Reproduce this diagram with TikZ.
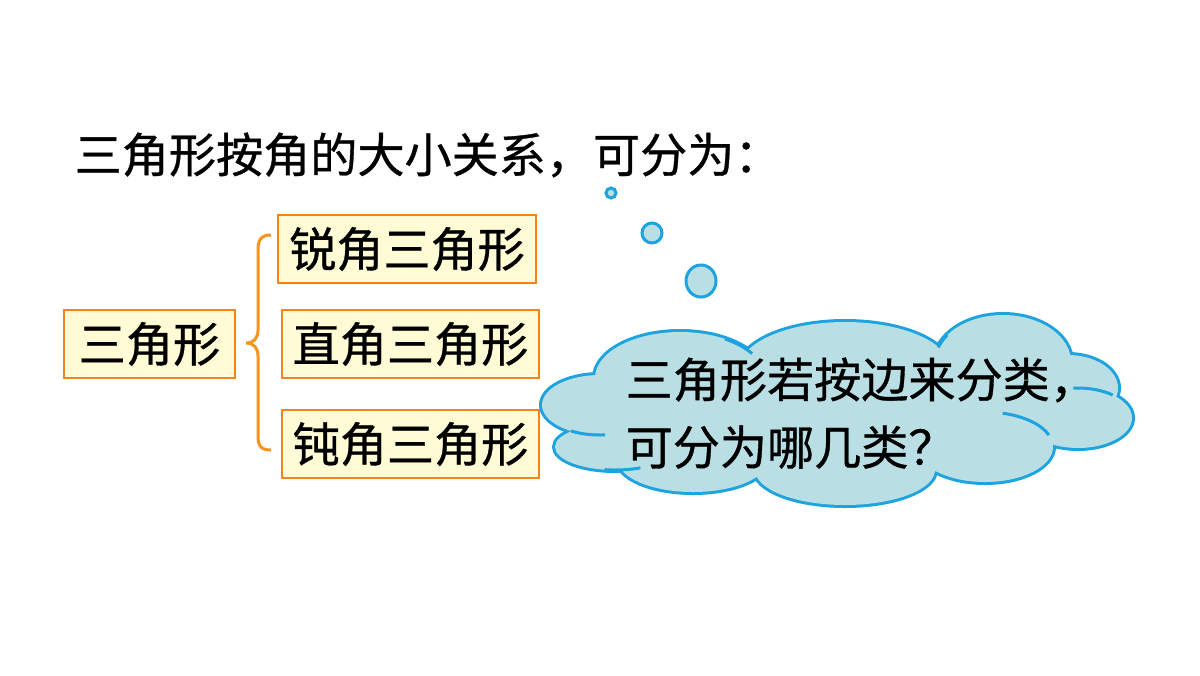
\documentclass[tikz,border=0pt]{standalone}
\usepackage{fontspec}
\setmainfont{Noto Sans CJK SC}[FakeBold=0.7]
\usepackage{tikz}
\definecolor{boxorange}{RGB}{245,130,32}
\definecolor{boxyellow}{RGB}{255,251,212}
\definecolor{braceorange}{RGB}{247,148,30}
\definecolor{cloudblue}{RGB}{28,163,224}
\definecolor{cloudfill}{RGB}{185,223,228}
\tikzset{
    catbox/.style={draw=boxorange, fill=boxyellow, line width=.6pt, minimum height=.68cm,
        inner sep=0mm, font=\fontsize{13.4pt}{15pt}\selectfont},
    plaintext/.style={anchor=west, inner sep=0mm, font=\fontsize{13.4pt}{15pt}\selectfont},
    bubble/.style={draw=cloudblue, fill=cloudfill, line width=.03cm},
    puffline/.style={draw=cloudblue, line width=.06cm},
    innerline/.style={draw=cloudblue, line width=.03cm},
    bracestyle/.style={draw=braceorange, line width=.03cm}
}

\begin{document}
\begin{tikzpicture}[x=0.01cm, y=-0.01cm]
    \useasboundingbox (0,0) rectangle (1200,675);

    \node (title) [plaintext] at (74,155) {三角形按角的大小关系，可分为：};

    \node (tri) [catbox, minimum width=1.71cm] at (149.5,344) {三角形};
    \node (acute) [catbox, minimum width=2.58cm] at (407,249) {锐角三角形};
    \node (right) [catbox, minimum width=2.57cm] at (410.5,344) {直角三角形};
    \node (obtuse) [catbox, minimum width=2.57cm] at (410.5,444) {钝角三角形};

    % brace
    \coordinate (btop) at (271,235);
    \coordinate (btip) at (246,343);
    \coordinate (bbot) at (271,450);
    \draw [bracestyle] (btop) .. controls (261,235) and (258,240) .. (258,250) -- (258,330)
        .. controls (258,338) and (254,343) .. (btip)
        .. controls (254,343) and (258,348) .. (258,356) -- (258,436)
        .. controls (258,446) and (261,450) .. (bbot);

    % thought bubbles
    \draw [bubble] (611,193) circle [radius=5];
    \draw [bubble] (652,233) circle [radius=10];
    \draw [bubble] (701,281) ellipse [x radius=15, y radius=16];

    % cloud: outlines first, then fill over the inside
    \foreach \cx/\cy/\rx/\ry in {600/405/58/30, 615/447/60/23, 680/378/85/46,
        845/368/105/46, 1003/362/68/47, 1068/388/50/33, 1078/418/54/30,
        985/447/68/35, 845/470/90/35, 693/460/75/32}
        \draw [puffline] (\cx,\cy) ellipse [x radius=\rx, y radius=\ry];
    \foreach \cx/\cy/\rx/\ry in {600/405/58/30, 615/447/60/23, 680/378/85/46,
        845/368/105/46, 1003/362/68/47, 1068/388/50/33, 1078/418/54/30,
        985/447/68/35, 845/470/90/35, 693/460/75/32, 835/415/240/62}
        \fill [cloudfill] (\cx,\cy) ellipse [x radius=\rx, y radius=\ry];

    % inner strokes
    \draw [innerline] (680,378) ++(-58:85 and 46) arc [start angle=-58, end angle=-32, x radius=85, y radius=46];
    \draw [innerline] (1003,362) ++(-162:68 and 47) arc [start angle=-162, end angle=-145, x radius=68, y radius=47];
    \draw [innerline] (1078,418) ++(-50:54 and 30) arc [start angle=-50, end angle=-95, x radius=54, y radius=30];
    \draw [innerline] (985,447) ++(-75:68 and 35) arc [start angle=-75, end angle=-20, x radius=68, y radius=35];
    \draw [innerline] (600,405) ++(120:58 and 30) arc [start angle=120, end angle=85, x radius=58, y radius=30];
    \draw [innerline] (615,447) ++(100:60 and 23) arc [start angle=100, end angle=65, x radius=60, y radius=23];

    \node (ask1) [plaintext] at (625,380) {三角形若按边来分类，};
    \node (ask2) [plaintext] at (625,447) {可分为哪几类？};
\end{tikzpicture}
\end{document}
